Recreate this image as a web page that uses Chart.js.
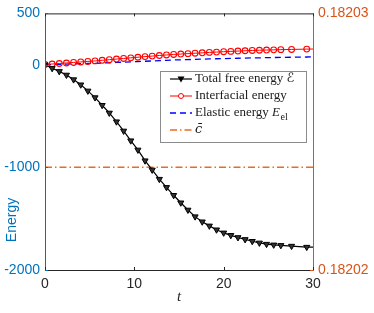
<!DOCTYPE html>
<html>
<head>
<meta charset="utf-8">
<script src="https://cdn.jsdelivr.net/npm/chart.js@4/dist/chart.umd.min.js"></script>
<style>
  html, body { margin: 0; padding: 0; background: #fff; }
  #wrap { width: 374px; height: 313px; }
</style>
</head>
<body>
<div id="wrap"><canvas id="c"></canvas></div>
<script>
// time samples of the simulation output
const times = [0, 0.8, 1.6, 2.4, 3.2, 4.0, 4.8, 5.6, 6.4, 7.2, 8.0, 8.8, 9.6, 10.4, 11.2, 12.0,
  12.8, 13.6, 14.4, 15.2, 16.0, 16.8, 17.6, 18.4, 19.2, 20.0, 20.8, 21.6, 22.4, 23.2, 24.0,
  24.8, 25.6, 26.4, 27.6, 29.3, 30];
const totalEnergy = [0, -35, -65, -100, -145, -195, -255, -320, -395, -470, -555, -645, -740,
  -830, -935, -1025, -1115, -1195, -1272, -1345, -1415, -1480, -1530, -1570, -1608, -1638,
  -1662, -1683, -1702, -1720, -1736, -1748, -1755, -1760, -1767, -1777, -1778];
const interfacialEnergy = [3, 7, 12, 17, 22, 27, 32, 37, 43, 49, 55, 61, 67, 73, 79, 84, 90, 95,
  100, 104, 108, 112, 116, 120, 123, 127, 130, 133, 136, 139, 141, 143, 145, 147, 149, 152, 153];
const elasticEnergy = [0, 2, 4, 6, 8, 10, 12, 14, 16, 19, 22, 25, 28, 31, 34, 37, 40, 43, 46, 48,
  50, 52, 54, 56, 58, 60, 62, 63, 65, 66, 67, 69, 70, 71, 73, 75, 76];
const cbarTimes = [0, 30];
const cbarValues = [0.182024, 0.182024];

const xTicks = [0, 10, 20, 30];
const leftTicks = [-2000, -1000, 0, 500];
const rightTicks = [0.18202, 0.18203];

const BLUE = "#0072BD";
const ORANGE = "#D95319";

function pts(xs, ys) {
  return xs.map((x, i) => ({ x: x, y: ys[i] }));
}
// no marker on the final sample
const markerRadius = (r) => times.map((t, i) => (i === times.length - 1 ? 0 : r));

const frame = {
  id: "frame",
  afterDraw(chart) {
    const { ctx, chartArea: a, scales } = chart;
    ctx.save();
    // box
    ctx.lineWidth = 1;
    ctx.strokeStyle = "#262626";
    ctx.beginPath();
    ctx.moveTo(a.left, a.top + 0.5); ctx.lineTo(a.right, a.top + 0.5);
    ctx.moveTo(a.left, a.bottom + 0.5); ctx.lineTo(a.right, a.bottom + 0.5);
    ctx.stroke();
    ctx.strokeStyle = BLUE;
    ctx.beginPath(); ctx.moveTo(a.left + 0.5, a.top); ctx.lineTo(a.left + 0.5, a.bottom + 1); ctx.stroke();
    ctx.strokeStyle = ORANGE;
    ctx.beginPath(); ctx.moveTo(a.right + 0.5, a.top); ctx.lineTo(a.right + 0.5, a.bottom + 1); ctx.stroke();

    // inward ticks
    const tl = 3;
    ctx.strokeStyle = "#262626";
    ctx.beginPath();
    xTicks.forEach(v => {
      const x = Math.round(scales.x.getPixelForValue(v)) + 0.5;
      ctx.moveTo(x, a.bottom); ctx.lineTo(x, a.bottom - tl);
      ctx.moveTo(x, a.top); ctx.lineTo(x, a.top + tl);
    });
    ctx.stroke();
    ctx.strokeStyle = BLUE;
    ctx.beginPath();
    leftTicks.forEach(v => {
      const y = Math.round(scales.y.getPixelForValue(v)) + 0.5;
      ctx.moveTo(a.left, y); ctx.lineTo(a.left + tl, y);
    });
    ctx.stroke();
    ctx.strokeStyle = ORANGE;
    ctx.beginPath();
    rightTicks.forEach(v => {
      const y = Math.round(scales.y1.getPixelForValue(v)) + 0.5;
      ctx.moveTo(a.right, y); ctx.lineTo(a.right - tl, y);
    });
    ctx.stroke();

    // axis titles
    ctx.fillStyle = BLUE;
    ctx.font = "14px 'Liberation Sans', Arial, sans-serif";
    ctx.textAlign = "center";
    ctx.textBaseline = "middle";
    ctx.save();
    ctx.translate(12, 220);
    ctx.rotate(-Math.PI / 2);
    ctx.fillText("Energy", 0, 0);
    ctx.restore();
    ctx.fillStyle = "#262626";
    ctx.font = "italic 15px 'Liberation Serif', serif";
    ctx.fillText("t", (a.left + a.right) / 2, 297);

    // legend
    const lx = 160.5, ly = 71.5, lw = 146, lh = 71;
    ctx.fillStyle = "#fff";
    ctx.fillRect(lx, ly, lw, lh);
    ctx.strokeStyle = "#8c8c8c";
    ctx.strokeRect(lx, ly, lw, lh);
    const rows = [79, 96, 113, 130];
    const sx0 = 170, sx1 = 192, tx = 195;
    const ds = chart.data.datasets;
    rows.forEach((ry, i) => {
      const d = ds[i];
      ctx.strokeStyle = d.borderColor;
      ctx.lineWidth = d.borderWidth;
      ctx.setLineDash(d.borderDash || []);
      ctx.beginPath(); ctx.moveTo(sx0, ry); ctx.lineTo(sx1, ry); ctx.stroke();
      ctx.setLineDash([]);
      if (i === 0) {
        ctx.fillStyle = "#000";
        ctx.beginPath();
        ctx.moveTo(181 - 3.5, ry - 2.5); ctx.lineTo(181 + 3.5, ry - 2.5); ctx.lineTo(181, ry + 3.5);
        ctx.closePath(); ctx.fill();
      } else if (i === 1) {
        ctx.beginPath(); ctx.arc(181, ry, 2.5, 0, Math.PI * 2);
        ctx.fillStyle = "#fff"; ctx.fill(); ctx.stroke();
      }
    });
    ctx.fillStyle = "#1a1a1a";
    ctx.textAlign = "left";
    ctx.textBaseline = "middle";
    ctx.font = "13px 'Liberation Serif', serif";
    ctx.fillText("Total free energy ", tx, rows[0]);
    let w = ctx.measureText("Total free energy ").width;
    ctx.font = "13px 'DejaVu Serif', 'DejaVu Sans', serif";
    ctx.fillText("\u2130", tx + w, rows[0]);
    ctx.font = "13px 'Liberation Serif', serif";
    ctx.fillText("Interfacial energy", tx, rows[1]);
    ctx.fillText("Elastic energy ", tx, rows[2]);
    w = ctx.measureText("Elastic energy ").width;
    ctx.font = "italic 13px 'Liberation Serif', serif";
    ctx.fillText("E", tx + w, rows[2]);
    const we = ctx.measureText("E").width;
    ctx.font = "10px 'Liberation Serif', serif";
    ctx.fillText("el", tx + w + we + 0.5, rows[2] + 4);
    ctx.font = "italic 13px 'DejaVu Serif', serif";
    ctx.fillText("c\u0304", tx, rows[3]);
    ctx.restore();
  }
};

new Chart(document.getElementById("c"), {
  type: "line",
  data: {
    datasets: [
      {
        label: "Total free energy",
        data: pts(times, totalEnergy),
        yAxisID: "y",
        borderColor: "#000",
        borderWidth: 1.2,
        pointStyle: "triangle",
        pointRotation: 180,
        pointRadius: markerRadius(3.5),
        pointBackgroundColor: "#333",
        pointBorderColor: "#000",
        pointBorderWidth: 1
      },
      {
        label: "Interfacial energy",
        data: pts(times, interfacialEnergy),
        yAxisID: "y",
        borderColor: "#ff0000",
        borderWidth: 1,
        pointStyle: "circle",
        pointRadius: markerRadius(2.9),
        pointBackgroundColor: "rgba(255,255,255,0)",
        pointBorderColor: "#ff0000",
        pointBorderWidth: 1.1
      },
      {
        label: "Elastic energy",
        data: pts(times, elasticEnergy),
        yAxisID: "y",
        borderColor: "#0000ff",
        borderWidth: 1.3,
        borderDash: [6, 4],
        pointRadius: 0
      },
      {
        label: "cbar",
        data: pts(cbarTimes, cbarValues),
        yAxisID: "y1",
        borderColor: "#EE6A22",
        borderWidth: 1.5,
        borderDash: [7, 3, 1.5, 3],
        pointRadius: 0
      }
    ]
  },
  options: {
    responsive: true,
    maintainAspectRatio: false,
    animation: false,
    layout: { padding: { top: 12, left: 0, right: 0, bottom: 0 } },
    plugins: { legend: { display: false }, tooltip: { enabled: false } },
    elements: { line: { tension: 0 } },
    scales: {
      x: {
        type: "linear",
        min: 0, max: 30,
        afterBuildTicks: (s) => { s.ticks = xTicks.map(v => ({ value: v })); },
        afterFit: (s) => { s.height = 43; },
        grid: { display: false, drawTicks: false },
        border: { display: false },
        ticks: { color: "#262626", padding: 6, font: { family: "'Liberation Sans', Arial", size: 14 }, maxRotation: 0,
          callback: (v) => String(v) }
      },
      y: {
        position: "left",
        min: -2000, max: 500,
        afterBuildTicks: (s) => { s.ticks = leftTicks.map(v => ({ value: v })); },
        afterFit: (s) => { s.width = 45; },
        grid: { display: false, drawTicks: false },
        border: { display: false },
        ticks: { color: BLUE, padding: 5, font: { family: "'Liberation Sans', Arial", size: 14 },
          callback: (v) => String(v) }
      },
      y1: {
        position: "right",
        min: 0.18202, max: 0.18203,
        afterBuildTicks: (s) => { s.ticks = rightTicks.map(v => ({ value: v })); },
        afterFit: (s) => { s.width = 61; },
        grid: { display: false, drawTicks: false },
        border: { display: false },
        ticks: {
          color: ORANGE, padding: 5,
          font: { family: "'Liberation Sans', Arial", size: 14 },
          callback: (v) => Number(v).toFixed(5)
        }
      }
    }
  },
  plugins: [frame]
});
</script>
</body>
</html>
